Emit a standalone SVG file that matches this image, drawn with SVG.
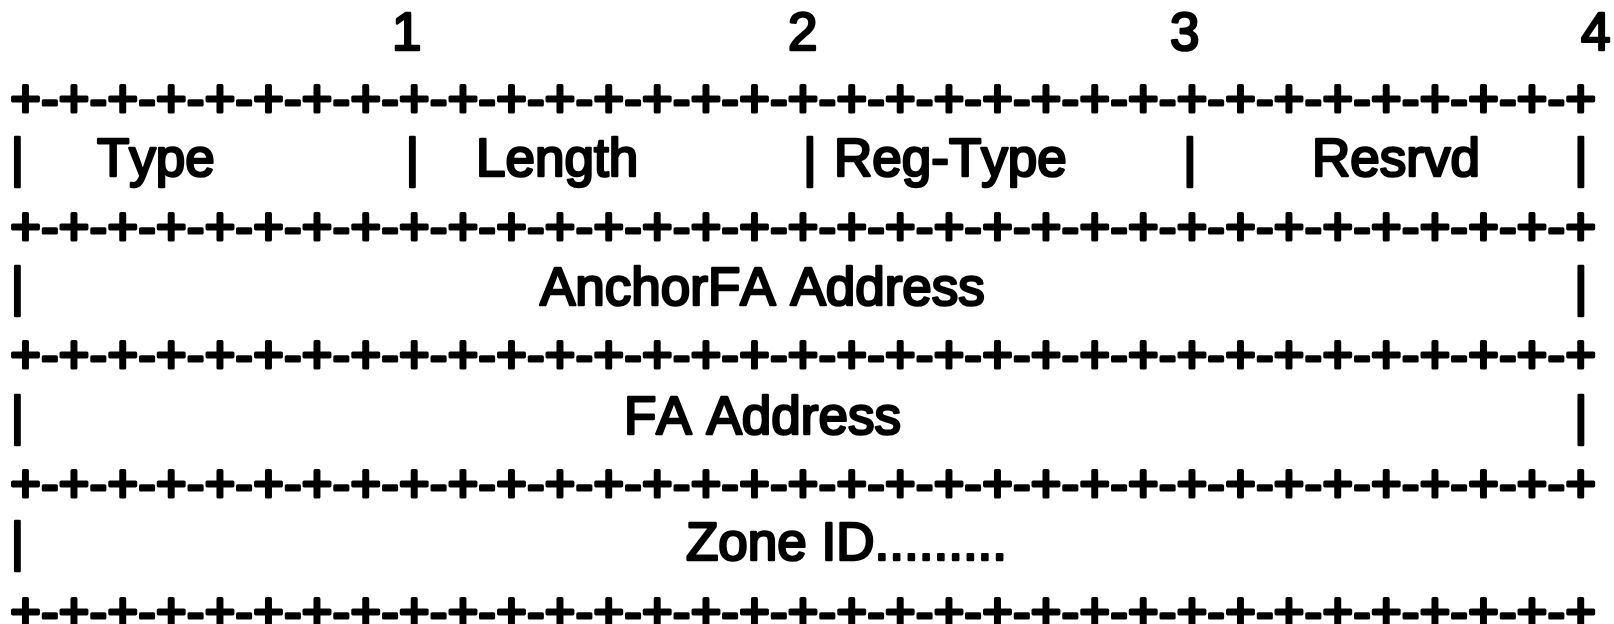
<svg xmlns="http://www.w3.org/2000/svg" width="1614" height="624" viewBox="0 0 1614 624">
<style>
text{font-family:"Liberation Sans",Arial,sans-serif;font-size:53px;fill:#000;stroke:#000;stroke-width:2.6px;stroke-linejoin:round;font-kerning:none}
.b{stroke-width:3.2px}
</style>
<rect width="1614" height="624" fill="#fff"/>
<g id="ruler">
<text x="392" y="50">1</text>
<text x="788" y="50">2</text>
<text x="1170" y="50">3</text>
<text x="1581" y="50">4</text>
</g>
<g id="borders">
<text class="b" x="10" y="116.6">+-+-+-+-+-+-+-+-+-+-+-+-+-+-+-+-+-+-+-+-+-+-+-+-+-+-+-+-+-+-+-+-+</text>
<text class="b" x="10" y="245">+-+-+-+-+-+-+-+-+-+-+-+-+-+-+-+-+-+-+-+-+-+-+-+-+-+-+-+-+-+-+-+-+</text>
<text class="b" x="10" y="373.3">+-+-+-+-+-+-+-+-+-+-+-+-+-+-+-+-+-+-+-+-+-+-+-+-+-+-+-+-+-+-+-+-+</text>
<text class="b" x="10" y="501.6">+-+-+-+-+-+-+-+-+-+-+-+-+-+-+-+-+-+-+-+-+-+-+-+-+-+-+-+-+-+-+-+-+</text>
<text class="b" x="10" y="629.7">+-+-+-+-+-+-+-+-+-+-+-+-+-+-+-+-+-+-+-+-+-+-+-+-+-+-+-+-+-+-+-+-+</text>
</g>
<g id="row1">
<text x="10.5" y="175.6">|</text>
<text x="97" y="176">Type</text>
<text x="405.6" y="175.6">|</text>
<text x="476" y="176">Length</text>
<text x="803" y="175.6">|</text>
<text x="834" y="176">Reg-Type</text>
<text x="1183" y="175.6">|</text>
<text x="1312" y="176">Resrvd</text>
<text x="1574" y="175.6">|</text>
</g>
<g id="row2">
<text x="10.5" y="305">|</text>
<text x="540" y="305">AnchorFA Address</text>
<text x="1574" y="305">|</text>
</g>
<g id="row3">
<text x="10.5" y="433.6">|</text>
<text x="624" y="433.6">FA Address</text>
<text x="1574" y="433.6">|</text>
</g>
<g id="row4">
<text x="10.5" y="560.3">|</text>
<text x="686" y="560.3">Zone ID.........</text>
</g>
</svg>
